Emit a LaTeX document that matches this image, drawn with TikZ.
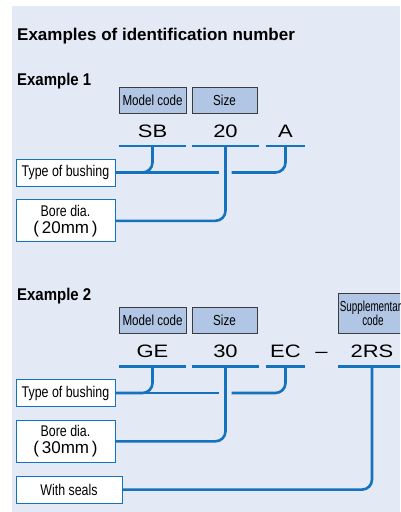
\documentclass[tikz,border=0pt]{standalone}
\usepackage{fontspec}
\setmainfont{Liberation Sans}
\newfontfamily\widefont[FakeStretch=1.22]{Liberation Sans}
\newfontfamily\condfont[FakeStretch=0.8]{Liberation Sans}
\newfontfamily\headfont[FakeStretch=0.88]{Liberation Sans}
\newfontfamily\suppfont[FakeStretch=0.68]{Liberation Sans}
\usetikzlibrary{positioning}

\definecolor{panelbg}{RGB}{227,233,245}
\definecolor{linkblue}{RGB}{21,114,189}
\definecolor{headfill}{RGB}{177,197,229}
\definecolor{headrule}{RGB}{60,60,60}

\begin{document}
\begin{tikzpicture}[x=1pt,y=-1pt,
	headbox/.style={draw=headrule,fill=headfill,line width=0.9pt,minimum height=26pt,inner sep=0pt,font=\condfont\fontsize{14.5}{14.3}\selectfont,align=center},
	codetxt/.style={anchor=south,inner xsep=0pt,inner ysep=8.5pt,font=\widefont\fontsize{18}{19}\selectfont},
	labelbox/.style={draw=linkblue,fill=white,line width=0.8pt,minimum width=99pt,minimum height=27pt,inner sep=0pt,font=\condfont\fontsize{15.5}{17}\selectfont,align=center},
	link/.style={linkblue,line width=2.6pt,rounded corners=10pt},
	under/.style={linkblue,line width=2.6pt}]
		
		% Panel
		\useasboundingbox (0,0) rectangle (400,512);
		\clip (0,0) rectangle (400,512);
		\fill[panelbg] (12,6) rectangle (400,512);
		
		% Headings
		\node[anchor=base west,inner sep=0pt,font=\bfseries\fontsize{17}{19}\selectfont] (title) at (17,40) {Examples of identification number};
		\node[anchor=base west,inner sep=0pt,font=\headfont\bfseries\fontsize{17}{19}\selectfont] (ex1) at (17,85) {Example 1};
		\node[anchor=base west,inner sep=0pt,font=\headfont\bfseries\fontsize{17}{19}\selectfont] (ex2) at (17,300) {Example 2};
		
		% Example 1
		\node[headbox,minimum width=67pt] (model1) at (152.5,100) {Model code};
		\node[headbox,minimum width=65pt] (size1) at (224.5,100) {Size};
		
		\node[codetxt,minimum width=67pt] (sb1) at (152.5,146) {SB};
		\node[codetxt,minimum width=67pt] (num1) at (225.5,146) {20};
		\node[codetxt,minimum width=39pt] (a1) at (285.5,146) {A};
		\draw[under] (sb1.south west) -- (sb1.south east);
		\draw[under] (num1.south west) -- (num1.south east);
		\draw[under] (a1.south west) -- (a1.south east);
		
		\node[labelbox] (type1) at (65.5,172.5) {Type of bushing};
		\node[labelbox,minimum height=42pt,below=13pt of type1] (bore1) {Bore dia.\\{\rmfamily\fontsize{17}{17}\selectfont(\,20mm\,)}};
		
		\draw[link] (sb1.south) |- (type1.east);
		\draw[link] (type1.east) -- ([xshift=-7pt]num1.south |- type1.east);
		\draw[link] (a1.south) |- ([xshift=6pt]num1.south |- type1.east);
		\draw[link] (num1.south) |- (bore1.east);
		
		% Example 2
		\begin{scope}[yshift=-220.5pt]
			\node[headbox,minimum width=67pt] (model2) at (152.5,100) {Model code};
			\node[headbox,minimum width=65pt] (size2) at (224.5,100) {Size};
			\node[headbox,minimum width=70pt,minimum height=40pt,font=\suppfont\fontsize{14.5}{14.3}\selectfont] (supp2) at (373,93) {Supplementary\\code};
			
			\node[codetxt,minimum width=67pt] (ge2) at (152.5,146) {GE};
			\node[codetxt,minimum width=67pt] (num2) at (225.5,146) {30};
			\node[codetxt,minimum width=39pt] (ec2) at (285.5,146) {EC};
			\node[codetxt] (dash2) at (321.5,146) {–};
			\node[codetxt,minimum width=67pt] (rs2) at (372,146) {2RS};
			\draw[under] (ge2.south west) -- (ge2.south east);
			\draw[under] (num2.south west) -- (num2.south east);
			\draw[under] (ec2.south west) -- (ec2.south east);
			\draw[under] (rs2.south west) -- (rs2.south east);
			
			\node[labelbox] (type2) at (65.5,172.5) {Type of bushing};
			\node[labelbox,minimum height=42pt,below=13pt of type2] (bore2) {Bore dia.\\{\rmfamily\fontsize{17}{17}\selectfont(\,30mm\,)}};
			\node[labelbox,minimum width=106pt,below=13pt of bore2.south west,anchor=north west] (seals2) {With seals};
			
			\draw[link] (ge2.south) |- (type2.east);
			\draw[link] (type2.east) -- ([xshift=-7pt]num2.south |- type2.east);
			\draw[link] (ec2.south) |- ([xshift=6pt]num2.south |- type2.east);
			\draw[link] (num2.south) |- (bore2.east);
			\draw[link] (rs2.south) |- (seals2.east);
		\end{scope}
		
	\end{tikzpicture}
\end{document}
